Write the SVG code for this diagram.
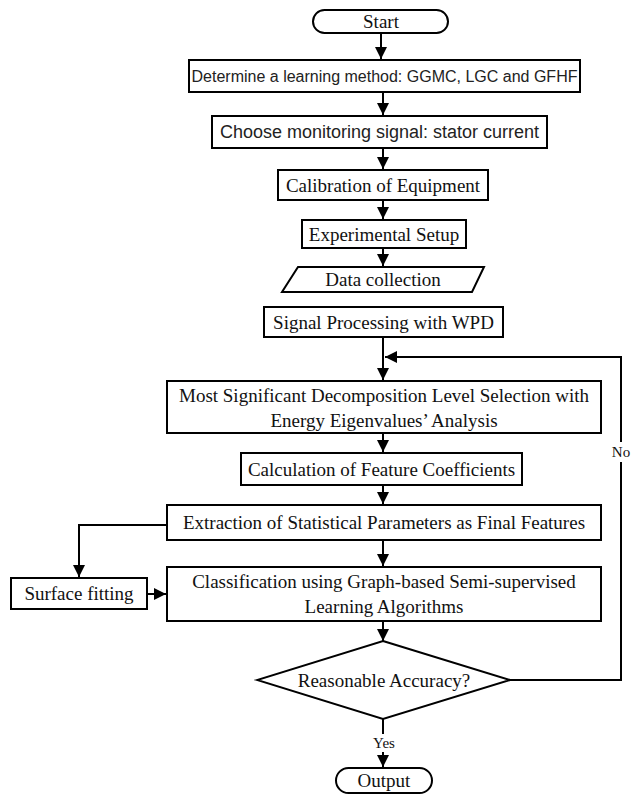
<svg xmlns="http://www.w3.org/2000/svg" width="631" height="796" viewBox="0 0 631 796">
<defs>
<marker id="ah" viewBox="0 0 10 10" refX="10" refY="5" markerWidth="12" markerHeight="12" markerUnits="userSpaceOnUse" orient="auto">
<path d="M0,0 L10,5 L0,10 Z" fill="#000"/>
</marker>
<style>
.box{fill:#fff;stroke:#000;stroke-width:2}
.ln{fill:none;stroke:#000;stroke-width:2}
.ar{fill:none;stroke:#000;stroke-width:2;marker-end:url(#ah)}
.sr{font-family:"Liberation Serif","Times New Roman",serif;font-size:19px;fill:#111;text-anchor:middle;dominant-baseline:central}
.ss{font-family:"Liberation Sans",Arial,sans-serif;font-size:16px;fill:#222;text-anchor:middle;dominant-baseline:central}
.sm{font-family:"Liberation Serif","Times New Roman",serif;font-size:15px;fill:#111;text-anchor:middle;dominant-baseline:central}
</style>
</defs>
<rect width="631" height="796" fill="#fff"/>
<g id="connectors">
<line class="ar" x1="381" y1="33" x2="381" y2="59"/>
<line class="ar" x1="383" y1="92" x2="383" y2="115"/>
<line class="ar" x1="383" y1="148" x2="383" y2="169"/>
<line class="ar" x1="383" y1="200" x2="383" y2="219"/>
<line class="ar" x1="383" y1="248" x2="383" y2="266"/>
<line class="ar" x1="383" y1="337" x2="383" y2="380"/>
<polyline class="ar" points="510,680 621,680 621,357 385,357"/>
<line class="ar" x1="383" y1="433" x2="383" y2="452"/>
<line class="ar" x1="383" y1="485" x2="383" y2="504"/>
<line class="ar" x1="383" y1="540" x2="383" y2="566"/>
<polyline class="ar" points="167,525 79,525 79,577"/>
<line class="ar" x1="147" y1="594" x2="166" y2="594"/>
<line class="ar" x1="383" y1="621" x2="383" y2="641"/>
<line class="ar" x1="383" y1="719" x2="383" y2="767"/>
<rect x="608" y="442" width="23" height="20" fill="#fff"/>
<text class="sm" x="621" y="452">No</text>
<rect x="369" y="734" width="30" height="18" fill="#fff"/>
<text class="sm" x="384" y="743">Yes</text>
</g>
<g id="start">
<rect class="box" x="313" y="10" width="135" height="23" rx="11.5"/>
<text class="sr" x="381" y="21.5">Start</text>
</g>
<g id="determine">
<rect class="box" x="189" y="60" width="391" height="32"/>
<text class="ss" x="384.5" y="76">Determine a learning method: GGMC, LGC and GFHF</text>
</g>
<g id="choose">
<rect class="box" x="212" y="116" width="335" height="32"/>
<text class="ss" x="379.5" y="132" style="font-size:18px">Choose monitoring signal: stator current</text>
</g>
<g id="calibration">
<rect class="box" x="278" y="170" width="210" height="30"/>
<text class="sr" x="383" y="185">Calibration of Equipment</text>
</g>
<g id="experimental">
<rect class="box" x="302" y="220" width="164" height="28"/>
<text class="sr" x="384" y="234">Experimental Setup</text>
</g>
<g id="data">
<polygon class="box" points="298,267 484,267 472,292 282,292"/>
<text class="sr" x="383" y="279.5">Data collection</text>
</g>
<g id="signal">
<rect class="box" x="264" y="307" width="239" height="30"/>
<text class="sr" x="383.5" y="322">Signal Processing with WPD</text>
</g>
<g id="significant">
<rect class="box" x="167" y="381" width="434" height="52"/>
<text class="sr" x="384" y="395">Most Significant Decomposition Level Selection with</text>
<text class="sr" x="384" y="420">Energy Eigenvalues’ Analysis</text>
</g>
<g id="calculation">
<rect class="box" x="241" y="453" width="281" height="32"/>
<text class="sr" x="381.5" y="469">Calculation of Feature Coefficients</text>
</g>
<g id="extraction">
<rect class="box" x="167" y="505" width="434" height="35"/>
<text class="sr" x="384" y="522.5">Extraction of Statistical Parameters as Final Features</text>
</g>
<g id="surface">
<rect class="box" x="11" y="578" width="136" height="31"/>
<text class="sr" x="79" y="593.5">Surface fitting</text>
</g>
<g id="classification">
<rect class="box" x="167" y="567" width="434" height="54"/>
<text class="sr" x="384" y="581">Classification using Graph-based Semi-supervised</text>
<text class="sr" x="384" y="606">Learning Algorithms</text>
</g>
<g id="decision">
<polygon class="box" points="383,641 510,680 383,719 257,680"/>
<text class="sr" x="384" y="680">Reasonable Accuracy?</text>
</g>
<g id="output">
<rect class="box" x="336" y="768" width="96" height="25" rx="12.5"/>
<text class="sr" x="384" y="780.5">Output</text>
</g>
</svg>
